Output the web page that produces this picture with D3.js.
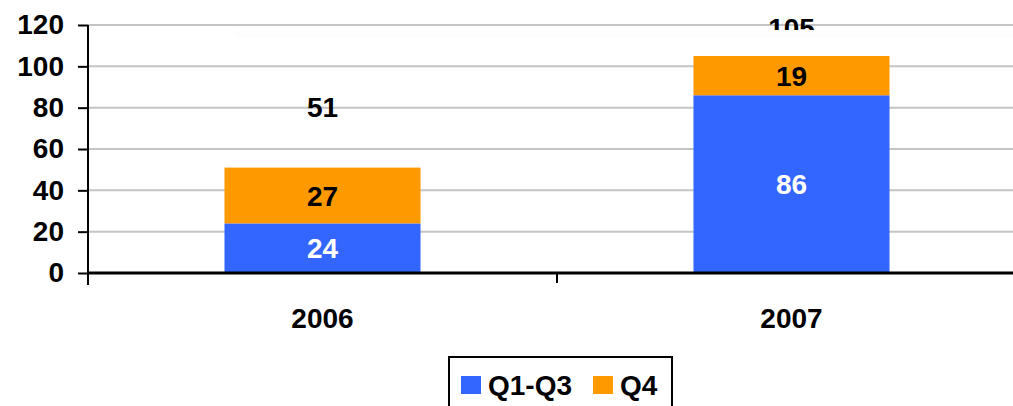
<!DOCTYPE html>
<html>
<head>
<meta charset="utf-8">
<script src="https://cdn.jsdelivr.net/npm/d3@7"></script>
<style>
  body { margin: 0; background: #fff; }
  svg text { font-family: "Liberation Sans", Arial, sans-serif; font-weight: bold; }
</style>
</head>
<body>
<svg id="chart" width="1013" height="406"></svg>
<script>
var years = ["2006", "2007"];
var q1q3 = [24, 86];
var q4 = [27, 19];
var totals = [51, 105];
var yTicks = [0, 20, 40, 60, 80, 100, 120];
var seriesNames = ["Q1-Q3", "Q4"];
var seriesColors = ["#3366FF", "#FF9900"];

var svg = d3.select("#chart");
var plotLeft = 88, plotRight = 1026, plotTop = 25, plotBottom = 273;
var fontSize = 28;

var x = d3.scaleBand().domain(years).range([plotLeft, plotRight]).paddingInner(0.582).paddingOuter(0.291);
var y = d3.scaleLinear().domain([0, 120]).range([plotBottom, plotTop]);

// gridlines
svg.append("g")
  .selectAll("line")
  .data(yTicks.filter(function(d){ return d > 0; }))
  .enter().append("line")
  .attr("x1", plotLeft).attr("x2", 1013)
  .attr("y1", function(d){ return y(d); })
  .attr("y2", function(d){ return y(d); })
  .attr("stroke", "#c4c4c4")
  .attr("stroke-width", 2);

// stacked bars
var stack = years.map(function(yr, i){
  return [
    {year: yr, y0: 0, y1: q1q3[i], v: q1q3[i], s: 0},
    {year: yr, y0: q1q3[i], y1: q1q3[i] + q4[i], v: q4[i], s: 1}
  ];
});
var segs = [].concat.apply([], stack);

svg.append("g").selectAll("rect")
  .data(segs).enter().append("rect")
  .attr("x", function(d){ return x(d.year); })
  .attr("width", x.bandwidth())
  .attr("y", function(d){ return y(d.y1); })
  .attr("height", function(d){ return y(d.y0) - y(d.y1); })
  .attr("fill", function(d){ return seriesColors[d.s]; });

svg.append("g").selectAll("text")
  .data(segs).enter().append("text")
  .attr("x", function(d){ return x(d.year) + x.bandwidth() / 2; })
  .attr("y", function(d){ return (y(d.y0) + y(d.y1)) / 2; })
  .attr("dy", "0.36em")
  .attr("text-anchor", "middle")
  .attr("font-size", fontSize)
  .attr("fill", function(d){ return d.s == 0 ? "#fff" : "#000"; })
  .text(function(d){ return d.v; });

// totals
svg.append("g").selectAll("text")
  .data(years).enter().append("text")
  .attr("x", function(d){ return x(d) + x.bandwidth() / 2; })
  .attr("y", function(d, i){ return i == 0 ? 107 : 28; })
  .attr("dy", "0.36em")
  .attr("text-anchor", "middle")
  .attr("font-size", fontSize)
  .attr("fill", "#000")
  .text(function(d, i){ return totals[i]; });

// faint plot-area band that clips the top total
svg.append("rect")
  .attr("x", 235).attr("y", 30).attr("width", 778).attr("height", 8)
  .attr("fill", "#fdfdfd");

// y axis
var yAxis = svg.append("g")
  .attr("transform", "translate(" + plotLeft + ",0)")
  .call(d3.axisLeft(y).tickValues(yTicks).tickSize(10).tickPadding(14));
yAxis.select(".domain").attr("stroke", "#000").attr("stroke-width", 2).attr("d", "M0," + (plotBottom + 12) + "V" + plotTop);
yAxis.selectAll(".tick line").attr("stroke", "#000").attr("stroke-width", 2);
yAxis.selectAll(".tick text").attr("font-size", fontSize).attr("fill", "#000")
  .attr("font-family", "'Liberation Sans', Arial, sans-serif").attr("font-weight", "bold");

// x axis
var xAxis = svg.append("g")
  .attr("transform", "translate(0," + plotBottom + ")")
  .call(d3.axisBottom(x).tickSize(0).tickPadding(35));
xAxis.select(".domain").attr("stroke", "#000").attr("stroke-width", 3).attr("d", "M" + plotLeft + ",0H" + plotRight);
xAxis.selectAll(".tick text").attr("font-size", fontSize).attr("fill", "#000")
  .attr("font-family", "'Liberation Sans', Arial, sans-serif").attr("font-weight", "bold");
var bounds = [plotLeft, (x(years[0]) + x.bandwidth() + x(years[1])) / 2, plotRight];
xAxis.selectAll(".sep").data(bounds).enter().append("line")
  .attr("x1", function(d){ return d; }).attr("x2", function(d){ return d; })
  .attr("y1", 0).attr("y2", 10)
  .attr("stroke", "#000").attr("stroke-width", 2);

// legend
var legend = svg.append("g");
legend.append("rect")
  .attr("x", 449).attr("y", 357).attr("width", 223).attr("height", 60)
  .attr("fill", "none").attr("stroke", "#000").attr("stroke-width", 2);
var legendX = [461, 593];
var item = legend.selectAll(".item").data(seriesNames).enter().append("g");
item.append("rect")
  .attr("x", function(d, i){ return legendX[i]; })
  .attr("y", 376).attr("width", 20).attr("height", 18)
  .attr("fill", function(d, i){ return seriesColors[i]; });
item.append("text")
  .attr("x", function(d, i){ return legendX[i] + 27; })
  .attr("y", 385).attr("dy", "0.36em")
  .attr("font-size", fontSize).attr("fill", "#000")
  .text(function(d){ return d; });
</script>
</body>
</html>
